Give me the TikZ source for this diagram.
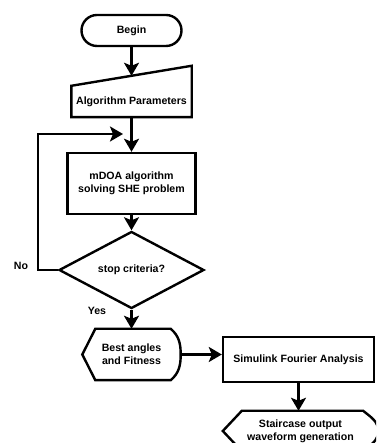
\documentclass[tikz,border=0pt]{standalone}
\usepackage{fontspec}
\setmainfont{Liberation Sans}
\usetikzlibrary{shapes.geometric,positioning,calc,arrows.meta}

\begin{document}
\begin{tikzpicture}[
    x=1pt, y=1pt,
    every node/.style={font=\fontsize{10.6}{13}\selectfont\bfseries, align=center, inner sep=0pt},
    flowbox/.style={draw, line width=2.4pt},
    shapeline/.style={line width=2.4pt, line join=miter},
    arr/.style={-{Stealth[length=13pt,width=15pt,inset=3pt]}, line width=2.6pt}
]
    \useasboundingbox (0,0) rectangle (376,443);
    \clip (0,0) rectangle (376,443);

    % --- Main column ---
    \node[flowbox, rounded corners=15.5pt, minimum width=100pt, minimum height=31pt] (begin) at (131.5,412.5) {Begin};
    \node[minimum width=120pt, minimum height=31pt] (param) at (131.5,341.5) {Algorithm Parameters};
    \draw[shapeline] (param.south west) -- (param.south east) -- ([yshift=20pt]param.north east) -- (param.north west) -- cycle;
    \coordinate (paramtop) at ([yshift=10pt]param.north);
    \node[flowbox, minimum width=128pt, minimum height=61pt] (mdoa) at (131.5,259.5) {mDOA algorithm\\solving SHE problem};
    \node[flowbox, diamond, minimum width=145pt, minimum height=66pt] (crit) at (131.5,173) {stop criteria?};
    \node[minimum width=98pt, minimum height=51pt] (best) at (131.5,88.5) {Best angles\\and Fitness};
    \draw[shapeline] (best.west) -- ([xshift=13pt]best.north west) -- ([xshift=-10pt]best.north east)
        to[out=-40,in=90] (best.east) to[out=-90,in=40] ([xshift=-10pt]best.south east)
        -- ([xshift=13pt]best.south west) -- cycle;

    % --- Output branch ---
    \node[flowbox, minimum width=151pt, minimum height=45pt] (sim) at (298.5,83.5) {Simulink Fourier Analysis};
    \node[minimum width=155pt, minimum height=40pt] (wave) at (300.5,12) {Staircase output\\waveform generation};
    \draw[shapeline] (wave.west) -- ([xshift=19pt]wave.north west) -- ([xshift=-15pt]wave.north east)
        to[out=-40,in=90] (wave.east) to[out=-90,in=40] ([xshift=-15pt]wave.south east)
        -- ([xshift=19pt]wave.south west) -- cycle;

    % --- Connectors ---
    \draw[arr] (begin.south) -- (paramtop);
    \draw[arr] (param.south) -- (mdoa.north);
    \draw[arr] (mdoa.south) -- (crit.north);
    \draw[arr] (crit.south) -- (best.north);
    \draw[arr] (best.east) -- (best.east -| sim.west);
    \draw[arr] (sim.south) -- (sim.south |- wave.north);

    % --- Loop back ---
    \coordinate (merge) at (123,309);
    \draw[arr] (crit.west) -- ++(-20,0) |- (merge);
    \node (no) at (21,177) {No};
    \node (yes) at (97,132) {Yes};
\end{tikzpicture}
\end{document}
